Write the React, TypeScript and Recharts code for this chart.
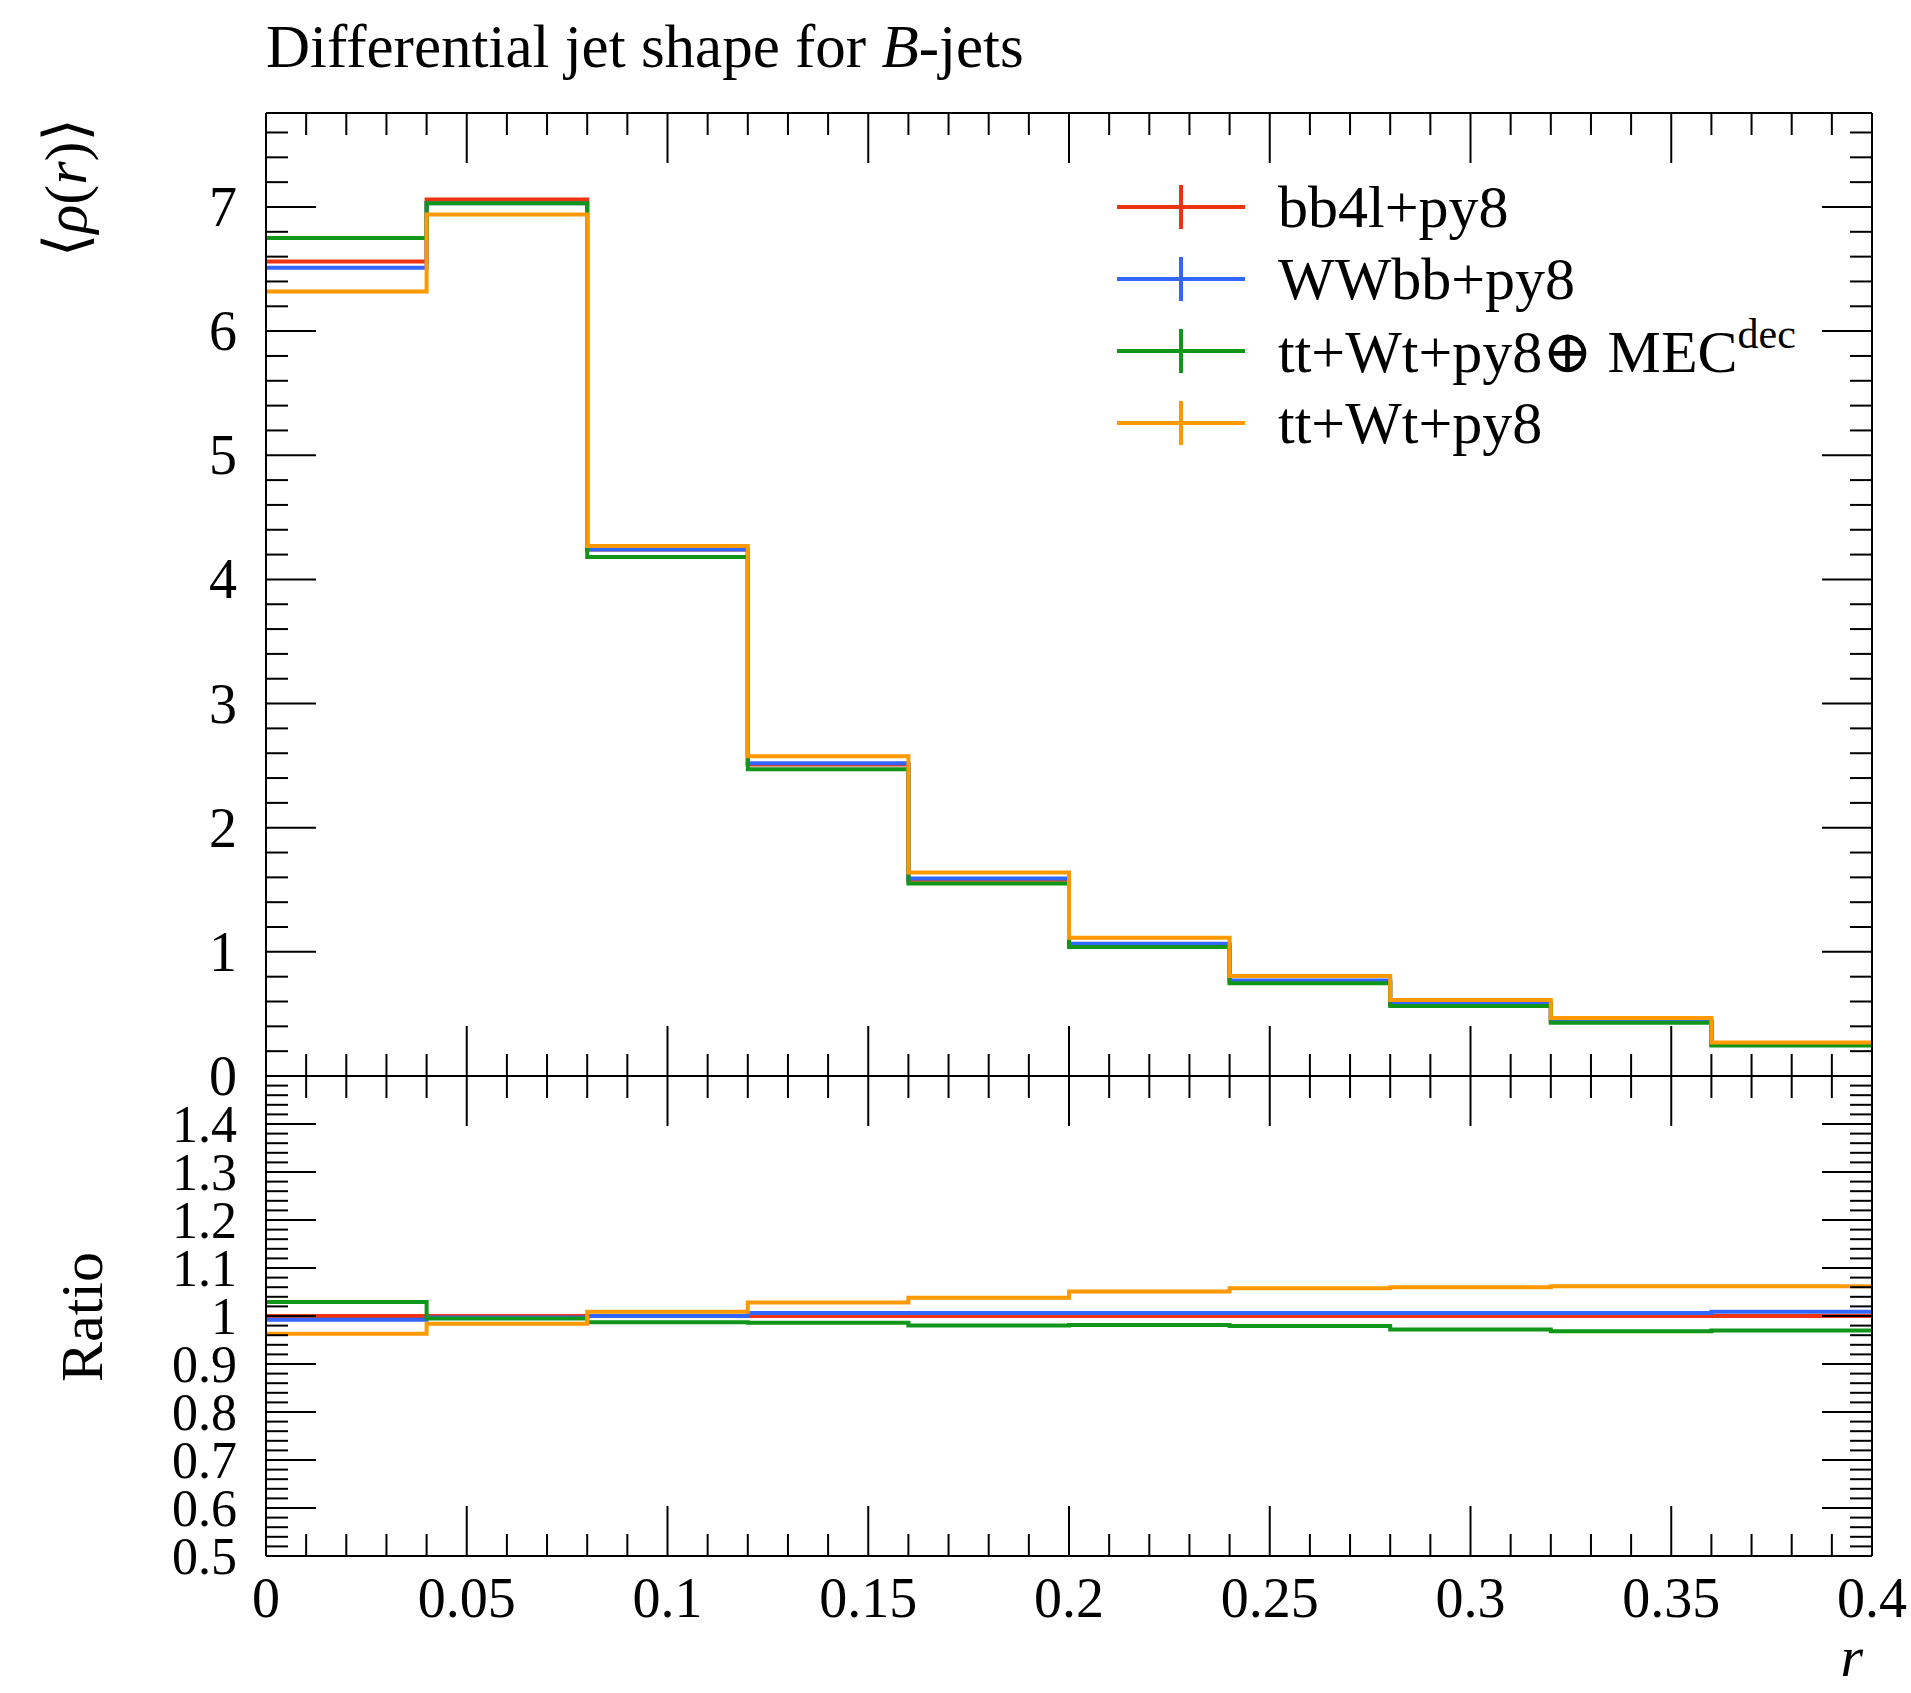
import React from 'react';
import { ComposedChart, Line, XAxis, YAxis, Legend } from 'recharts';

// bin edges in r, 10 bins of 0.04
const binEdges = [0, 0.04, 0.08, 0.12, 0.16, 0.2, 0.24, 0.28, 0.32, 0.36, 0.4];

// <rho(r)> per bin
const rhoBb4l = [6.56, 7.06, 4.24, 2.51, 1.58, 1.06, 0.764, 0.58, 0.442, 0.253];
const rhoWWbb = [6.51, 7.03, 4.24, 2.52, 1.59, 1.066, 0.769, 0.584, 0.446, 0.256];
const rhoMec = [6.75, 7.03, 4.18, 2.47, 1.55, 1.04, 0.748, 0.564, 0.428, 0.245];
const rhoTtWt = [6.32, 6.94, 4.27, 2.575, 1.64, 1.113, 0.806, 0.613, 0.468, 0.27];

// ratio to bb4l+py8
const ratioBb4l = [1, 1, 1, 1, 1, 1, 1, 1, 1, 1];
const ratioWWbb = [0.992, 0.997, 1.0, 1.006, 1.006, 1.006, 1.006, 1.006, 1.006, 1.009];
const ratioMec = [1.029, 0.995, 0.987, 0.986, 0.98, 0.981, 0.979, 0.972, 0.968, 0.97];
const ratioTtWt = [0.963, 0.984, 1.009, 1.028, 1.038, 1.051, 1.058, 1.06, 1.062, 1.062];

const seriesKeys = ['bb4l', 'wwbb', 'mec', 'ttwt'];
const seriesNames = ['bb4l+py8', 'WWbb+py8', 'tt+Wt+py8⊕ MEC^dec', 'tt+Wt+py8'];
const seriesColors = ['#ee3311', '#3366ff', '#109618', '#ff9900'];

const xTickLabels = ['0', '0.05', '0.1', '0.15', '0.2', '0.25', '0.3', '0.35', '0.4'];
const yTickLabels = ['0', '1', '2', '3', '4', '5', '6', '7'];
const ratioTickLabels = ['0.5', '0.6', '0.7', '0.8', '0.9', '1', '1.1', '1.2', '1.3', '1.4'];

// tick positions (minor + major)
const xTicks = Array.from({ length: 41 }, (_, i) => i / 100);
const yTicks = Array.from({ length: 39 }, (_, i) => i / 5);
const ratioTicks = Array.from({ length: 51 }, (_, i) => Math.round(50 + i * 2) / 100);

const toRows = (lists: number[][]) =>
  binEdges.map((r, i) => {
    const j = Math.min(i, lists[0].length - 1);
    const row: any = { r };
    seriesKeys.forEach((k, s) => (row[k] = lists[s][j]));
    return row;
  });

const rhoRows = toRows([rhoBb4l, rhoWWbb, rhoMec, rhoTtWt]);
const ratioRows = toRows([ratioBb4l, ratioWWbb, ratioMec, ratioTtWt]);

const FONT = '"Liberation Serif", "DejaVu Serif", serif';
const axisStyle = { stroke: '#000', strokeWidth: 2 };

type Side = 'top' | 'bottom' | 'left' | 'right';

const makeTick =
  (side: Side, majorStep: number, label?: (v: number) => string | undefined, labelSize = 56) =>
  (props: any) => {
    const { x, y, payload } = props;
    const v = payload.value;
    const q = v / majorStep;
    const major = Math.abs(q - Math.round(q)) < 1e-6;
    const len = major ? 50 : 22;
    const x2 = side === 'left' ? x + len : side === 'right' ? x - len : x;
    const y2 = side === 'top' ? y + len : side === 'bottom' ? y - len : y;
    const text = major && label ? label(v) : undefined;
    return (
      <g>
        <line x1={x} y1={y} x2={x2} y2={y2} stroke="#000" strokeWidth={2} />
        {text !== undefined && side === 'left' && (
          <text x={x - 29} y={y} dy="0.34em" textAnchor="end" fontSize={labelSize} fontFamily={FONT} fill="#000">
            {text}
          </text>
        )}
        {text !== undefined && side === 'bottom' && (
          <text x={x} y={y + 61} textAnchor="middle" fontSize={labelSize} fontFamily={FONT} fill="#000">
            {text}
          </text>
        )}
      </g>
    );
  };

const renderName = (name: string) => {
  const [base, sup] = name.split('^');
  return (
    <>
      {base}
      {sup && <sup style={{ fontSize: 42, verticalAlign: 'baseline', position: 'relative', top: -24 }}>{sup}</sup>}
    </>
  );
};

const LegendContent = ({ payload }: any) => {
  const items = [...(payload || [])].sort(
    (a: any, b: any) => seriesKeys.indexOf(a.dataKey) - seriesKeys.indexOf(b.dataKey)
  );
  return (
    <div>
      {items.map((entry: any) => (
        <div key={entry.dataKey} style={{ display: 'flex', alignItems: 'center', height: 72 }}>
          <svg width={130} height={44} style={{ flex: 'none' }}>
            <line x1={1} y1={22} x2={129} y2={22} stroke={entry.color} strokeWidth={4} />
            <line x1={65} y1={0} x2={65} y2={44} stroke={entry.color} strokeWidth={4} />
          </svg>
          <span style={{ marginLeft: 32, fontSize: 60, fontFamily: FONT, whiteSpace: 'nowrap', color: '#000' }}>
            {renderName(entry.value)}
          </span>
        </div>
      ))}
    </div>
  );
};

const renderLines = () =>
  seriesKeys.map((k, i) => (
    <Line
      key={k}
      xAxisId="b"
      yAxisId="l"
      type="stepAfter"
      dataKey={k}
      name={seriesNames[i]}
      stroke={seriesColors[i]}
      strokeWidth={4}
      dot={false}
      activeDot={false}
      isAnimationActive={false}
    />
  ));

const frameAxes = (
  yDomain: [number, number],
  yTickList: number[],
  yMajor: number,
  yLabel: (v: number) => string | undefined,
  yLabelSize: number,
  xLabel?: (v: number) => string | undefined
) => [
  <XAxis
    key="xb"
    xAxisId="b"
    type="number"
    dataKey="r"
    domain={[0, 0.4]}
    allowDataOverflow
    ticks={xTicks}
    interval={0}
    height={1}
    tickSize={0}
    tickMargin={0}
    tickLine={false}
    axisLine={axisStyle}
    tick={makeTick('bottom', 0.05, xLabel)}
  />,
  <XAxis
    key="xt"
    xAxisId="t"
    orientation="top"
    type="number"
    dataKey="r"
    domain={[0, 0.4]}
    allowDataOverflow
    ticks={xTicks}
    interval={0}
    height={1}
    tickSize={0}
    tickMargin={0}
    tickLine={false}
    axisLine={axisStyle}
    tick={makeTick('top', 0.05)}
  />,
  <YAxis
    key="yl"
    yAxisId="l"
    type="number"
    domain={yDomain}
    allowDataOverflow
    ticks={yTickList}
    interval={0}
    width={1}
    tickSize={0}
    tickMargin={0}
    tickLine={false}
    axisLine={axisStyle}
    tick={makeTick('left', yMajor, yLabel, yLabelSize)}
  />,
  <YAxis
    key="yr"
    yAxisId="r"
    orientation="right"
    type="number"
    domain={yDomain}
    allowDataOverflow
    ticks={yTickList}
    interval={0}
    width={1}
    tickSize={0}
    tickMargin={0}
    tickLine={false}
    axisLine={axisStyle}
    tick={makeTick('right', yMajor)}
  />,
];

export default function App() {
  return (
    <div
      style={{
        position: 'absolute',
        left: 0,
        top: 0,
        width: 1911,
        height: 1693,
        background: '#fff',
        fontFamily: FONT,
      }}
    >
      <svg width={1911} height={1693} style={{ position: 'absolute', left: 0, top: 0 }} fontFamily={FONT}>
        <text x={266} y={67} fontSize={61} fill="#000">
          Differential jet shape for <tspan fontStyle="italic">B</tspan>-jets
        </text>
        <text transform="translate(86,118) rotate(-90)" textAnchor="end" fontSize={60} fill="#000">
          ⟨<tspan fontStyle="italic">ρ</tspan>(<tspan fontStyle="italic">r</tspan>)⟩
        </text>
        <text transform="translate(102,1317) rotate(-90)" textAnchor="middle" fontSize={60} fill="#000">
          Ratio
        </text>
        <text x={1863} y={1676} textAnchor="end" fontSize={58} fontStyle="italic" fill="#000">
          r
        </text>
      </svg>

      <div style={{ position: 'absolute', left: 0, top: 0 }}>
        <ComposedChart
          width={1911}
          height={1110}
          data={rhoRows}
          margin={{ top: 112, right: 38, left: 265, bottom: 33 }}
        >
          {frameAxes([0, 7.757], yTicks, 1, (v) => yTickLabels[Math.round(v)], 56)}
          <Legend
            layout="vertical"
            align="center"
            verticalAlign="middle"
            content={<LegendContent />}
            wrapperStyle={{ left: 1116, top: 171, width: 790, height: 290 }}
          />
          {renderLines()}
        </ComposedChart>
      </div>

      <div style={{ position: 'absolute', left: 0, top: 1000 }}>
        <ComposedChart
          width={1911}
          height={693}
          data={ratioRows}
          margin={{ top: 75, right: 38, left: 265, bottom: 136 }}
        >
          {frameAxes(
            [0.5, 1.5],
            ratioTicks,
            0.1,
            (v) => ratioTickLabels[Math.round((v - 0.5) * 10)],
            52,
            (v) => xTickLabels[Math.round(v / 0.05)]
          )}
          {renderLines()}
        </ComposedChart>
      </div>
    </div>
  );
}
